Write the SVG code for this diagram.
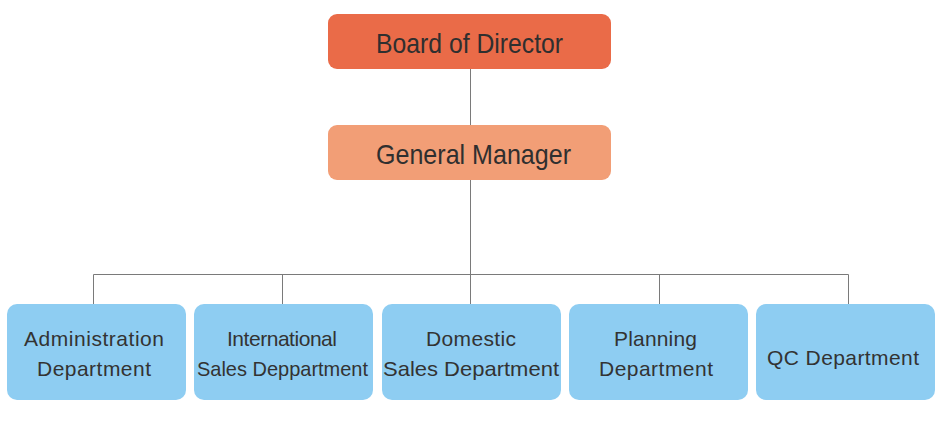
<svg xmlns="http://www.w3.org/2000/svg" width="940" height="430" viewBox="0 0 940 430">
<style>
  .top text, .mid text { font-family: "Liberation Sans", Arial, sans-serif; font-size: 28px; fill: #2f2f2f; text-anchor: middle; }
  .dept rect { fill: #8ecdf2; }
  .dept text { font-family: "Liberation Sans", Arial, sans-serif; font-size: 21px; fill: #333333; text-anchor: middle; }
  .conn { fill: none; stroke: #7a7a7a; stroke-width: 1; }
</style>
<rect width="940" height="430" fill="#ffffff"/>
<g id="connectors" class="conn">
  <line x1="470.5" y1="69" x2="470.5" y2="125"/>
  <line x1="470.5" y1="180" x2="470.5" y2="304"/>
  <polyline points="93.5,304 93.5,274.5 848.5,274.5 848.5,304"/>
  <line x1="282.5" y1="274.5" x2="282.5" y2="304"/>
  <line x1="659.5" y1="274.5" x2="659.5" y2="304"/>
</g>
<g id="board" class="top">
  <rect x="328" y="14" width="283" height="55" rx="9" fill="#ea6b48"/>
  <text x="469.5" y="53" textLength="187" lengthAdjust="spacingAndGlyphs">Board of Director</text>
</g>
<g id="gm" class="mid">
  <rect x="328" y="125" width="283" height="55" rx="9" fill="#f29e76"/>
  <text x="473.5" y="164" textLength="195" lengthAdjust="spacingAndGlyphs">General Manager</text>
</g>
<g id="admin" class="dept">
  <rect x="7" y="304" width="179" height="96" rx="10"/>
  <text x="94" y="346" textLength="140">Administration</text>
  <text x="94" y="376" textLength="114">Department</text>
</g>
<g id="intl" class="dept">
  <rect x="194" y="304" width="179" height="96" rx="10"/>
  <text x="282" y="346" textLength="110">International</text>
  <text x="282.5" y="376" textLength="171" lengthAdjust="spacingAndGlyphs">Sales Deppartment</text>
</g>
<g id="domestic" class="dept">
  <rect x="382" y="304" width="179" height="96" rx="10"/>
  <text x="471" y="346" textLength="90">Domestic</text>
  <text x="471" y="376" textLength="176" lengthAdjust="spacingAndGlyphs">Sales Department</text>
</g>
<g id="planning" class="dept">
  <rect x="569" y="304" width="179" height="96" rx="10"/>
  <text x="655.5" y="346" textLength="83">Planning</text>
  <text x="656" y="376" textLength="114">Department</text>
</g>
<g id="qc" class="dept">
  <rect x="756" y="304" width="179" height="96" rx="10"/>
  <text x="843" y="365" textLength="152">QC Department</text>
</g>
</svg>
